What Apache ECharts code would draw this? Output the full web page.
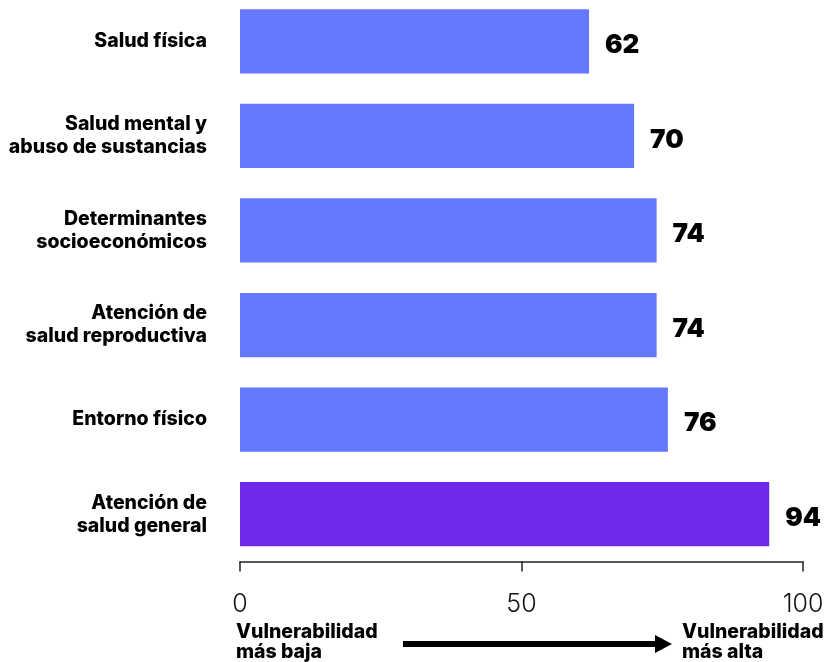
<!DOCTYPE html>
<html>
<head>
<meta charset="utf-8">
<script src="https://cdn.jsdelivr.net/npm/echarts@6/dist/echarts.min.js"></script>
<style>html,body{margin:0;padding:0;background:#fff;overflow:hidden}#c{position:absolute;left:0;top:-6px;width:828px;height:668px}</style>
</head>
<body>
<div id="c"></div>
<script>
const categories = ["Salud física", "Salud mental y\nabuso de sustancias", "Determinantes\nsocioeconómicos", "Atención de\nsalud reproductiva", "Entorno físico", "Atención de\nsalud general"];
const values = [62, 70, 74, 74, 76, 94];
const highlight = [false, false, false, false, false, true];
const tickValues = [0, 50, 100];
const lowLabel = "Vulnerabilidad\nmás baja";
const highLabel = "Vulnerabilidad\nmás alta";

const chart = echarts.init(document.getElementById('c'));
chart.setOption({
  animation: false,
  grid: { left: 240, right: 25, top: 0, bottom: 100.5, containLabel: false },
  xAxis: {
    type: 'value', min: tickValues[0], max: tickValues[tickValues.length - 1], interval: 50,
    position: 'bottom',
    splitLine: { show: false },
    axisLine: { show: true, lineStyle: { color: '#222', width: 1.5 } },
    axisTick: { show: true, inside: false, length: 10, lineStyle: { color: '#222', width: 1.5 } },
    axisLabel: { margin: 30, fontFamily: 'Inter', fontWeight: 300, fontSize: 25, color: '#111' }
  },
  yAxis: {
    type: 'category', data: categories, inverse: true,
    axisLine: { show: false }, axisTick: { show: false },
    axisLabel: { margin: 33, fontFamily: 'Inter', fontWeight: 800, fontSize: 19.5, lineHeight: 23, color: '#000', align: 'right', padding: [4, 0, 0, 0] }
  },
  series: [{
    type: 'bar',
    data: values.map((v, i) => ({ value: v, itemStyle: { color: highlight[i] ? '#7029EA' : '#6479FF' } })),
    barCategoryGap: '32%',
    label: { show: true, position: 'right', distance: 16, offset: [0, 4], fontFamily: 'Inter', fontWeight: 900, fontSize: 26, color: '#000' }
  }],
  graphic: [
    { type: 'text', left: 236, top: 628, style: { text: lowLabel, font: '800 19.5px Inter', lineHeight: 20, fill: '#000' } },
    { type: 'text', left: 682, top: 628, style: { text: highLabel, font: '800 19.5px Inter', lineHeight: 20, fill: '#000' } },
    { type: 'line', shape: { x1: 403, y1: 650, x2: 658, y2: 650 }, style: { stroke: '#000', lineWidth: 6 } },
    { type: 'polygon', shape: { points: [[655, 641], [672, 650], [655, 659]] }, style: { fill: '#000' } }
  ]
});
</script>
</body>
</html>
